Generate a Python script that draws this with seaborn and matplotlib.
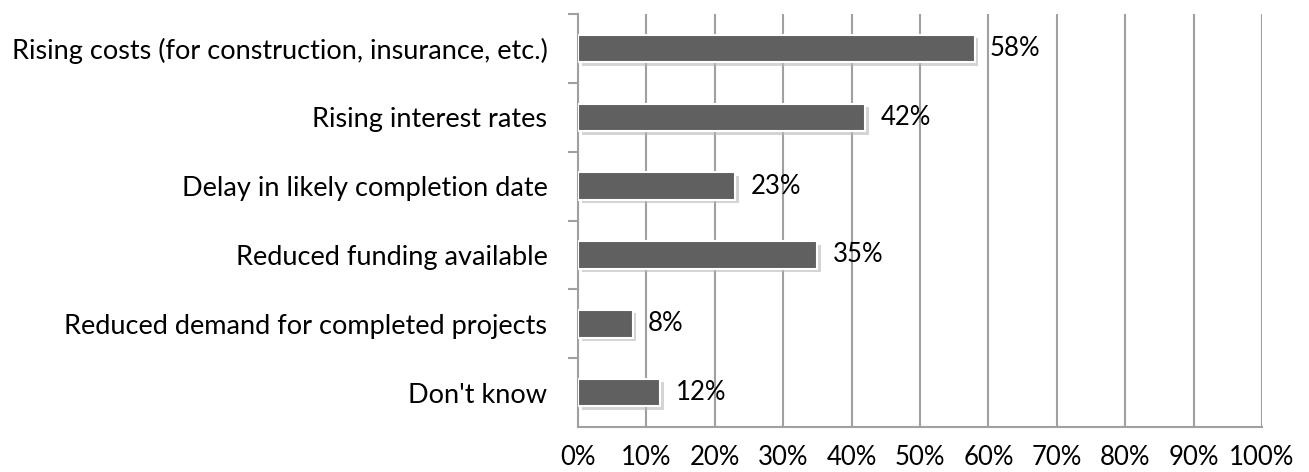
import matplotlib
matplotlib.use('Agg')
import matplotlib.pyplot as plt
import matplotlib.patheffects as pe
from matplotlib.ticker import FixedLocator, PercentFormatter
import seaborn as sns
import pandas as pd

categories = ['Rising costs (for construction, insurance, etc.)',
              'Rising interest rates',
              'Delay in likely completion date',
              'Reduced funding available',
              'Reduced demand for completed projects',
              "Don't know"]
values = [58, 42, 23, 35, 8, 12]

sns.set_theme(style='white')
plt.rcParams['font.family'] = ['Lato', 'DejaVu Sans']

df = pd.DataFrame({'reason': categories, 'share': values})

fig = plt.figure(figsize=(13.09, 4.72), dpi=100)
ax = fig.add_axes([0.4416, 0.0953, 0.5225, 0.875])

sns.barplot(data=df, y='reason', x='share', orient='h', color='#606060',
            saturation=1, width=0.4, edgecolor='white', linewidth=1.5, ax=ax, zorder=3)

for p in ax.patches:
    p.set_path_effects([pe.SimplePatchShadow(offset=(2.5, -2.5), shadow_rgbFace='#b8b8b8', alpha=0.6),
                        pe.Normal()])

for i, v in enumerate(values):
    ax.annotate(f'{v}%', xy=(v, i), xytext=(11, 0), textcoords='offset points',
                va='center', ha='left', fontsize=18.5, color='black', zorder=4)

ax.set_xlim(0, 100)
ax.set_ylim(5.5, -0.5)
ax.set_xticks(range(0, 101, 10))
ax.xaxis.set_major_formatter(PercentFormatter(decimals=0))
ax.grid(axis='x', color='#a0a0a0', linewidth=1.5, zorder=0)
ax.set_axisbelow(True)
ax.set_xlabel('')
ax.set_ylabel('')

for s in ['top', 'right']:
    ax.spines[s].set_visible(False)
for s in ['left', 'bottom']:
    ax.spines[s].set_color('#a0a0a0')
    ax.spines[s].set_linewidth(1.5)

ax.tick_params(axis='x', which='major', direction='out', length=6, width=1.5, color='#a0a0a0',
               labelsize=18.5, labelcolor='black', pad=7)
ax.tick_params(axis='y', which='major', length=0, labelsize=19.5, labelcolor='black', pad=22)
ax.yaxis.set_minor_locator(FixedLocator([-0.5, 0.5, 1.5, 2.5, 3.5, 4.5]))
ax.tick_params(axis='y', which='minor', direction='out', length=7, width=1.5, color='#a0a0a0', left=True)

fig.savefig('out.png', dpi=100)
